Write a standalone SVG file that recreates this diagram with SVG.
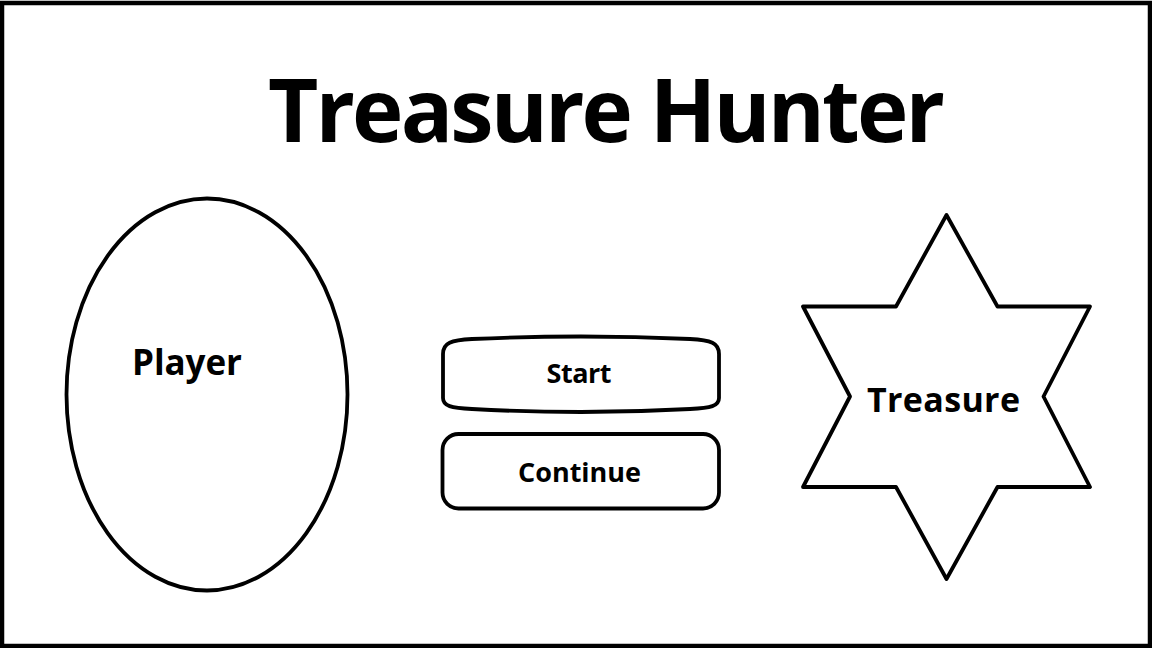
<svg xmlns="http://www.w3.org/2000/svg" width="1152" height="648" viewBox="0 0 1152 648">
  <style>
    .shape { fill: #ffffff; stroke: #000000; stroke-width: 3.8; stroke-linejoin: round; }
    .label { font-family: "Open Sans", "Liberation Sans", sans-serif; font-weight: bold; fill: #000000; text-anchor: middle; }
  </style>
  <!-- page frame -->
  <rect x="2" y="3" width="1148" height="643" fill="#ffffff" stroke="#000000" stroke-width="4.5"/>

  <!-- title -->
  <text class="label" x="606.5" y="142" font-size="87" textLength="677" lengthAdjust="spacing">Treasure Hunter</text>

  <g id="player">
    <ellipse class="shape" cx="207" cy="394.5" rx="140.5" ry="196"/>
    <text class="label" x="187" y="375" font-size="35" textLength="110" lengthAdjust="spacing">Player</text>
  </g>

  <g id="start">
    <path class="shape" d="M443,354 C443,343 451,340 472,339 Q581,334 690,339 C711,340 719,343 719,354 L719,398 C719,406 711,408 690,409 Q581,415 472,409 C451,408 443,406 443,398 Z"/>
    <text class="label" x="579" y="383" font-size="27" textLength="65" lengthAdjust="spacing">Start</text>
  </g>

  <g id="continue">
    <rect class="shape" x="442.5" y="434" width="276.5" height="74.5" rx="16"/>
    <text class="label" x="579.5" y="482" font-size="27" textLength="123" lengthAdjust="spacing">Continue</text>
  </g>

  <g id="treasure">
    <polygon class="shape" points="946.5,215 997.5,306.5 1090,306.5 1043.5,396.5 1090,487 997.5,487 946.5,579 896,487 803,487 850,396.5 803,306.5 896,306.5"/>
    <text class="label" x="943.5" y="412" font-size="34" textLength="153" lengthAdjust="spacing">Treasure</text>
  </g>

  <g id="connectors"/>
</svg>
